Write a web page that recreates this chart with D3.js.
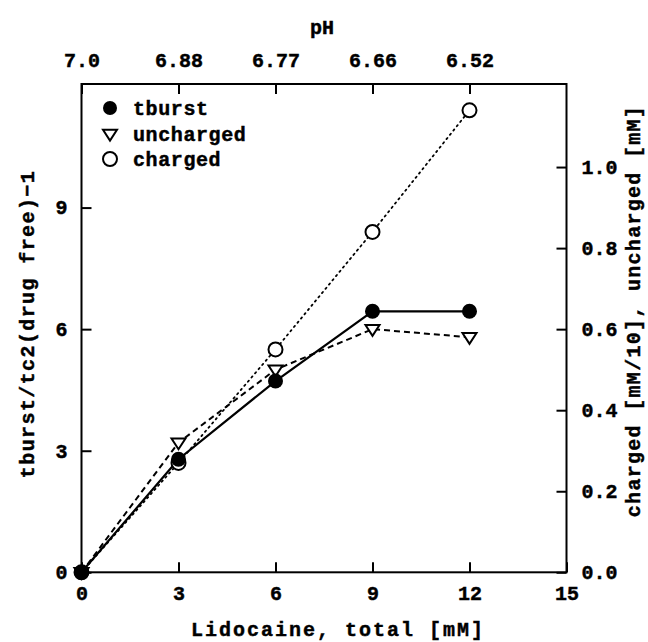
<!DOCTYPE html>
<html>
<head>
<meta charset="utf-8">
<script src="https://cdn.jsdelivr.net/npm/d3@7"></script>
<style>
  html, body { margin: 0; padding: 0; background: #fff; }
  svg { display: block; }
  text { font-family: "Liberation Mono", "DejaVu Sans Mono", monospace; font-weight: bold; fill: #000; stroke: #000; stroke-width: 0.45px; }
</style>
</head>
<body>
<svg id="chart" width="648" height="642"></svg>
<script>
// Total lidocaine concentration (mM)
const lidocaine = [0, 3, 6, 9, 12];
// Relative burst time, left axis
const tburst = [0, 2.79, 4.72, 6.44, 6.44];
// Uncharged drug (mM), right axis
const uncharged = [0, 0.32, 0.50, 0.60, 0.58];
// Charged drug (mM/10), right axis
const charged = [0, 0.27, 0.55, 0.84, 1.14];
// pH at each concentration, top axis
const pHLabels = ["7.0", "6.88", "6.77", "6.66", "6.52"];

const xTicks = [0, 3, 6, 9, 12, 15];
const yLeftTicks = [0, 3, 6, 9];
const yRightTicks = [0, 0.2, 0.4, 0.6, 0.8, 1.0];

const svg = d3.select("#chart");
const L = 81.5, R = 566.5, T = 84, B = 572.3;

const x = d3.scaleLinear().domain([0, 15]).range([L, R]);
const yL = d3.scaleLinear().domain([0, 12]).range([B, 86]);
const yR = d3.scaleLinear().domain([0, 1.2]).range([B, 86]);

const tickLen = 10;
const fs = 20;

// frame
svg.append("rect").attr("x", L).attr("y", T).attr("width", R - L).attr("height", B - T)
  .attr("fill", "none").attr("stroke", "#000").attr("stroke-width", 2);

// inward ticks, drawn with d3 axes and negative tick sizes
const styleAxis = g => {
  g.attr("font-size", fs).attr("font-family", null);
  g.select(".domain").remove();
  g.selectAll(".tick line").attr("stroke", "#000").attr("stroke-width", 2);
  g.selectAll(".tick text").style("font-size", fs + "px").attr("fill", "#000");
};

svg.append("g").attr("transform", `translate(0,${B})`)
  .call(d3.axisBottom(x).tickValues(xTicks).tickFormat(d3.format("d")).tickSize(-tickLen).tickPadding(14))
  .call(styleAxis);

svg.append("g").attr("transform", `translate(0,${T})`)
  .call(d3.axisTop(x).tickValues(lidocaine).tickFormat((d, i) => pHLabels[i]).tickSize(-tickLen).tickPadding(17))
  .call(styleAxis);

svg.append("g").attr("transform", `translate(${L},0)`)
  .call(d3.axisLeft(yL).tickValues(yLeftTicks).tickFormat(d3.format("d")).tickSize(-tickLen).tickPadding(14))
  .call(styleAxis);

svg.append("g").attr("transform", `translate(${R},0)`)
  .call(d3.axisRight(yR).tickValues(yRightTicks).tickFormat(d3.format(".1f")).tickSize(-tickLen).tickPadding(15))
  .call(styleAxis);

// axis titles
svg.append("text").attr("x", 338).attr("y", 636).attr("text-anchor", "middle")
  .style("font-size", "20px").style("letter-spacing", "2px").text("Lidocaine, total [mM]");
svg.append("text").attr("x", 322).attr("y", 34).attr("text-anchor", "middle")
  .style("font-size", "20px").text("pH");
svg.append("text").attr("transform", `translate(34,324) rotate(-90)`).attr("text-anchor", "middle")
  .style("font-size", "20px").style("letter-spacing", "1.4px").text("tburst/tc2(drug free)\u22121");
svg.append("text").attr("transform", `translate(640,311) rotate(-90)`).attr("text-anchor", "middle")
  .style("font-size", "20px").style("letter-spacing", "1.3px").text("charged [mM/10], uncharged [mM]");

// series lines
const lineL = d3.line().x((d, i) => x(lidocaine[i])).y(d => yL(d));
const lineR = d3.line().x((d, i) => x(lidocaine[i])).y(d => yR(d));

svg.append("path").datum(charged).attr("d", lineR).attr("fill", "none")
  .attr("stroke", "#000").attr("stroke-width", 1.8).attr("stroke-dasharray", "1.5,4").attr("stroke-linecap", "round");
svg.append("path").datum(uncharged).attr("d", lineR).attr("fill", "none")
  .attr("stroke", "#000").attr("stroke-width", 2).attr("stroke-dasharray", "6,4");
svg.append("path").datum(tburst).attr("d", lineL).attr("fill", "none")
  .attr("stroke", "#000").attr("stroke-width", 2.2);

// markers
const triPath = (cx, cy, s) => `M${cx - s},${cy - s * 0.6}L${cx + s},${cy - s * 0.6}L${cx},${cy + s * 0.95}Z`;

svg.append("g").selectAll("circle").data(charged).join("circle")
  .attr("cx", (d, i) => x(lidocaine[i])).attr("cy", d => yR(d)).attr("r", 7)
  .attr("fill", "#fff").attr("stroke", "#000").attr("stroke-width", 2);
svg.append("g").selectAll("path").data(uncharged).join("path")
  .attr("d", (d, i) => triPath(x(lidocaine[i]), yR(d), 7))
  .attr("fill", "#fff").attr("stroke", "#000").attr("stroke-width", 2).attr("stroke-linejoin", "miter");
svg.append("g").selectAll("circle").data(tburst).join("circle")
  .attr("cx", (d, i) => x(lidocaine[i])).attr("cy", d => yL(d)).attr("r", 7.5)
  .attr("fill", "#000");

// legend
const legend = [
  { label: "tburst", kind: "dot", y: 108 },
  { label: "uncharged", kind: "tri", y: 134 },
  { label: "charged", kind: "circ", y: 159 }
];
const lg = svg.append("g");
legend.forEach(e => {
  if (e.kind === "dot") lg.append("circle").attr("cx", 110).attr("cy", e.y).attr("r", 7).attr("fill", "#000");
  if (e.kind === "tri") lg.append("path").attr("d", triPath(110, e.y, 7)).attr("fill", "#fff").attr("stroke", "#000").attr("stroke-width", 2);
  if (e.kind === "circ") lg.append("circle").attr("cx", 110).attr("cy", e.y).attr("r", 7).attr("fill", "#fff").attr("stroke", "#000").attr("stroke-width", 2);
  lg.append("text").attr("x", 133).attr("y", e.y + 7).style("font-size", "20px").style("letter-spacing", "0.6px").text(e.label);
});
</script>
</body>
</html>
